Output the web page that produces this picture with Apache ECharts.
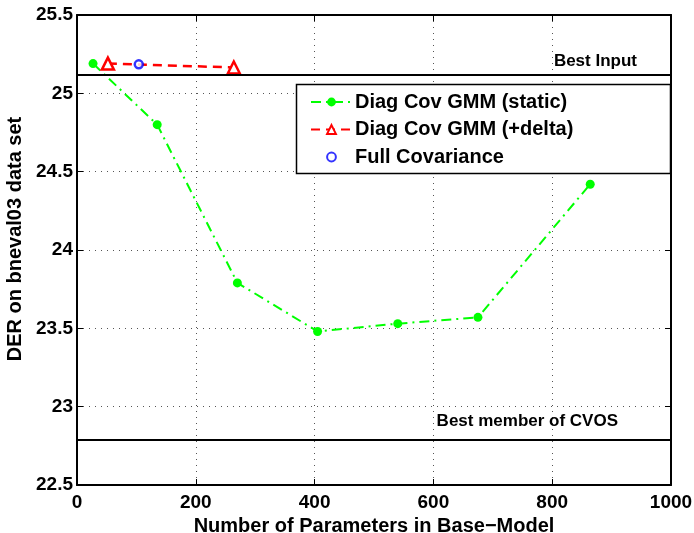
<!DOCTYPE html>
<html>
<head>
<meta charset="utf-8">
<script src="https://cdn.jsdelivr.net/npm/echarts@6/dist/echarts.min.js"></script>
<style>
  html, body { margin: 0; padding: 0; background: #fff; }
  #chart { width: 694px; height: 533px; }
</style>
</head>
<body>
<div id="chart"></div>
<script>
// Diarisation error rate versus base-model size
const staticParams = [27, 135, 270, 405, 540, 675, 864];
const staticDER    = [25.19, 24.80, 23.79, 23.48, 23.53, 23.57, 24.42];

const deltaParams  = [52, 264];
const deltaDER     = [25.19, 25.165];

const fullCovParams = [104];
const fullCovDER    = [25.185];

const bestInputDER = 25.117;
const bestCvosDER  = 22.787;

const xTicks = [0, 200, 400, 600, 800, 1000];
const yTicks = [22.5, 23, 23.5, 24, 24.5, 25, 25.5];

const FONT = '"Liberation Sans", Arial, sans-serif';
const pair = (xs, ys) => xs.map((x, i) => [x, ys[i]]);

const chart = echarts.init(document.getElementById('chart'), null, { renderer: 'canvas' });

const splitDotted = { show: true, lineStyle: { color: '#555', width: 1, type: [1, 5] } };
const labelStyle = { color: '#000', fontFamily: FONT, fontWeight: 'bold', fontSize: 19 };
const titleStyle = { color: '#000', fontFamily: FONT, fontWeight: 'bold', fontSize: 20 };

const option = {
  animation: false,
  backgroundColor: '#fff',
  grid: { left: 77, right: 23, top: 15, bottom: 48, containLabel: false, outerBoundsMode: 'none' },
  xAxis: [
    {
      type: 'value', min: xTicks[0], max: xTicks[xTicks.length - 1], interval: 200,
      position: 'bottom',
      name: 'Number of Parameters in Base\u2212Model',
      nameLocation: 'middle', nameGap: 29,
      nameTextStyle: titleStyle,
      axisLine: { show: true, onZero: false, lineStyle: { color: '#000', width: 2 } },
      axisTick: { show: true, inside: true, length: 6, lineStyle: { color: '#000', width: 1 } },
      axisLabel: Object.assign({ margin: 8, formatter: v => String(v) }, labelStyle),
      splitLine: splitDotted
    },
    {
      type: 'value', min: xTicks[0], max: xTicks[xTicks.length - 1], interval: 200,
      position: 'top',
      axisLine: { show: true, onZero: false, lineStyle: { color: '#000', width: 2 } },
      axisTick: { show: true, inside: true, length: 6, lineStyle: { color: '#000', width: 1 } },
      axisLabel: { show: false },
      splitLine: { show: false }
    }
  ],
  yAxis: [
    {
      type: 'value', min: yTicks[0], max: yTicks[yTicks.length - 1], interval: 0.5,
      position: 'left',
      name: 'DER on bneval03 data set',
      nameLocation: 'middle', nameGap: 44,
      nameTextStyle: Object.assign({ padding: [0, 0, 0, 22] }, titleStyle),
      axisLine: { show: true, onZero: false, lineStyle: { color: '#000', width: 2 } },
      axisTick: { show: true, inside: true, length: 6, lineStyle: { color: '#000', width: 1 } },
      axisLabel: Object.assign({ margin: 4 }, labelStyle),
      splitLine: splitDotted
    },
    {
      type: 'value', min: yTicks[0], max: yTicks[yTicks.length - 1], interval: 0.5,
      position: 'right',
      axisLine: { show: true, onZero: false, lineStyle: { color: '#000', width: 2 } },
      axisTick: { show: true, inside: true, length: 6, lineStyle: { color: '#000', width: 1 } },
      axisLabel: { show: false },
      splitLine: { show: false }
    }
  ],
  legend: {
    orient: 'vertical',
    left: 310, top: 92,
    itemWidth: 41, itemHeight: 11, itemGap: 7.5,
    padding: 0,
    textStyle: { color: '#000', fontFamily: FONT, fontWeight: 'bold', fontSize: 20, padding: [0, 0, 0, -2] },
    data: [
      { name: 'Diag Cov GMM (static)' },
      { name: 'Diag Cov GMM (+delta)' },
      { name: 'Full Covariance', icon: 'path://M5,1A4,4 0 1 1 5,9A4,4 0 1 1 5,1ZM0,0L0.01,0M10,10L10.01,10' }
    ]
  },
  graphic: [
    {
      type: 'rect', z: 1,
      shape: { x: 296.5, y: 84.5, width: 374, height: 89 },
      style: { fill: '#fff', stroke: '#000', lineWidth: 1.5 }
    }
  ],
  series: [
    {
      name: 'Best lines', type: 'line', data: [], z: 3,
      markLine: {
        silent: true, symbol: 'none',
        lineStyle: { color: '#000', width: 2, type: 'solid' },
        label: { show: true, color: '#000', fontFamily: FONT, fontWeight: 'bold', fontSize: 17 },
        data: [
          { yAxis: bestInputDER, name: 'Best Input',
            label: { formatter: 'Best Input', position: 'insideEndTop', distance: [34, 5] } },
          { yAxis: bestCvosDER, name: 'Best member of CVOS',
            label: { formatter: 'Best member of CVOS', position: 'insideEndTop', distance: [53, 10] } }
        ]
      }
    },
    {
      name: 'Diag Cov GMM (static)', type: 'line', z: 4,
      data: pair(staticParams, staticDER),
      symbol: 'circle', symbolSize: 9,
      itemStyle: { color: '#00ff00' },
      lineStyle: { color: '#00ff00', width: 2, type: [10, 5, 2, 5] }
    },
    {
      name: 'Diag Cov GMM (+delta)', type: 'line', z: 4,
      data: pair(deltaParams, deltaDER),
      symbol: 'triangle', symbolSize: 12,
      itemStyle: { color: '#fff', borderColor: '#ff0000', borderWidth: 2.5 },
      lineStyle: { color: '#ff0000', width: 2.5, type: [9, 6] }
    },
    {
      name: 'Full Covariance', type: 'scatter', z: 5,
      data: pair(fullCovParams, fullCovDER),
      symbol: 'circle', symbolSize: 8,
      itemStyle: { color: '#fff', borderColor: '#0000ff', borderWidth: 2.5 }
    }
  ]
};

chart.setOption(option);
</script>
</body>
</html>
